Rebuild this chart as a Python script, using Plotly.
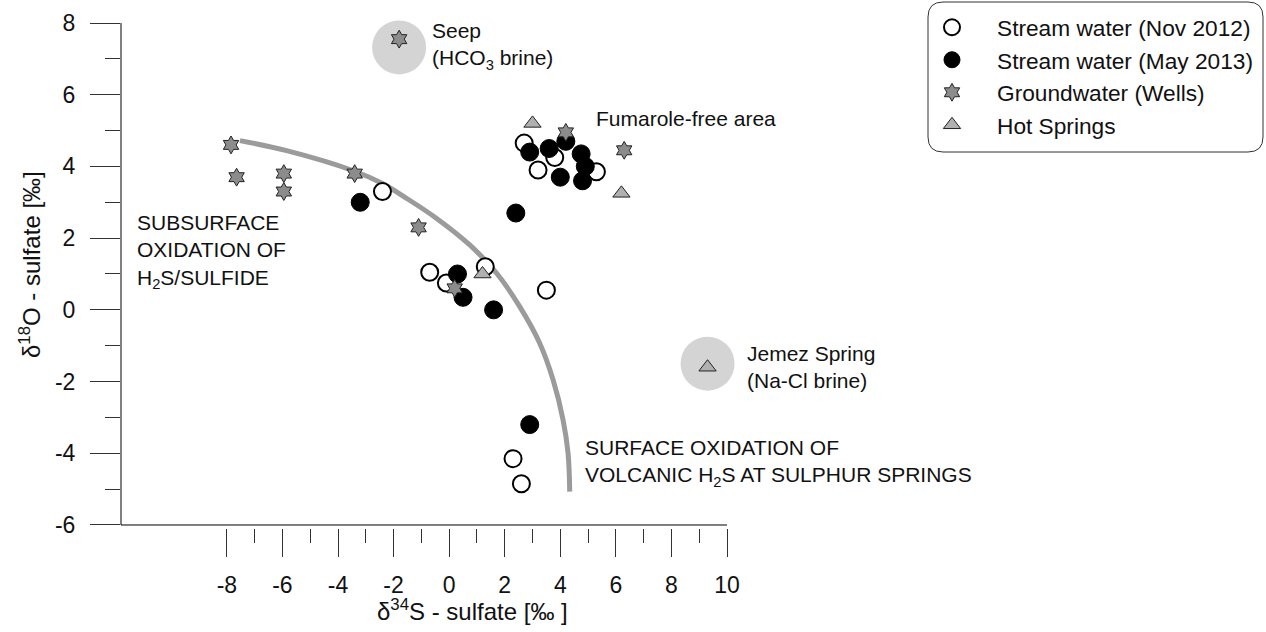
import plotly.graph_objects as go

# ---------------- data ----------------
nov_x = [-2.4, -0.7, -0.1, 1.3, 3.5, 2.3, 2.6, 2.7, 3.8, 3.2, 5.3]
nov_y = [3.3, 1.05, 0.75, 1.2, 0.55, -4.15, -4.85, 4.65, 4.25, 3.9, 3.85]

may_x = [-3.2, 0.3, 0.5, 1.6, 2.4, 2.9, 2.9, 3.6, 4.2, 4.75, 4.9, 4.0, 4.8]
may_y = [3.0, 1.0, 0.35, 0.0, 2.7, -3.2, 4.4, 4.5, 4.7, 4.35, 4.0, 3.7, 3.6]

gw_x = [-7.85, -7.65, -5.95, -5.95, -3.4, -1.1, 0.2, -1.8, 4.2, 6.3]
gw_y = [4.6, 3.7, 3.8, 3.3, 3.8, 2.3, 0.6, 7.55, 4.95, 4.45]

hs_x = [3.0, 6.2, 1.2, 9.3]
hs_y = [5.2, 3.25, 1.0, -1.6]

# grey halos behind the two brines (Seep, Jemez Spring)
halo_x = [-1.8, 9.3]
halo_y = [7.32, -1.5]

# schematic oxidation curve, points read along the grey arc
curve_x = [-7.53, -5.85, -3.45, -2.42, -1.53, -0.45, 0.74, 1.71, 2.54,
           3.26, 3.74, 4.10, 4.28, 4.34]
curve_y = [4.72, 4.44, 3.88, 3.53, 3.11, 2.55, 1.81, 1.02, 0.09,
           -0.93, -1.95, -3.07, -4.00, -5.07]

x_ticks = [-8, -6, -4, -2, 0, 2, 4, 6, 8, 10]
x_minor = [-7, -5, -3, -1, 1, 3, 5, 7, 9]
y_ticks = [-6, -4, -2, 0, 2, 4, 6, 8]
y_minor = [-5, -3, -1, 1, 3, 5, 7]

FONT = "Liberation Sans, Arial, Helvetica, sans-serif"
TXT = "#111111"

fig = go.Figure()

fig.add_trace(go.Scatter(
    x=curve_x, y=curve_y, mode="lines",
    line=dict(color="#9b9b9b", width=5, shape="spline", smoothing=1.0),
    showlegend=False, hoverinfo="skip"))

fig.add_trace(go.Scatter(
    x=halo_x, y=halo_y, mode="markers",
    marker=dict(size=54, color="#d4d4d4", line=dict(width=0)),
    showlegend=False, hoverinfo="skip", cliponaxis=False))

fig.add_trace(go.Scatter(
    x=nov_x, y=nov_y, mode="markers", name="Stream water (Nov 2012)",
    marker=dict(symbol="circle", size=17, color="white",
                line=dict(color="black", width=2)),
    cliponaxis=False))

fig.add_trace(go.Scatter(
    x=may_x, y=may_y, mode="markers", name="Stream water (May 2013)",
    marker=dict(symbol="circle", size=18, color="black",
                line=dict(color="black", width=1)),
    cliponaxis=False))

fig.add_trace(go.Scatter(
    x=gw_x, y=gw_y, mode="markers", name="Groundwater (Wells)",
    marker=dict(symbol="hexagram", size=13.5, color="#8c8c8c",
                line=dict(color="#222222", width=1)),
    cliponaxis=False))

fig.add_trace(go.Scatter(
    x=hs_x, y=hs_y, mode="markers", name="Hot Springs",
    marker=dict(symbol="triangle-up", size=15, color="#b0b0b0",
                line=dict(color="#222222", width=1)),
    cliponaxis=False))

# plot-area geometry (pixels) used for paper-coordinate placement
L, R, T, B = 121, 727, 23, 528
W, H = R - L, B - T


def px(xp):
    return (xp - L) / W


def py(yp):
    return (B - yp) / H


axis_common = dict(
    showgrid=False, zeroline=False, showline=False,
    ticks="outside", tickwidth=1, tickcolor="#333333",
    tickfont=dict(size=23, color=TXT, family=FONT),
)

fig.update_layout(
    width=1266, height=632,
    margin=dict(l=L, r=1266 - R, t=T, b=632 - B, autoexpand=False),
    paper_bgcolor="white", plot_bgcolor="white",
    font=dict(family=FONT, color=TXT, size=21),
    xaxis=dict(range=[-11.81, 10], tickvals=x_ticks,
               ticktext=[str(v) for v in x_ticks], ticklen=28,
               ticklabelstandoff=8,
               minor=dict(tickvals=x_minor, ticklen=14, ticks="outside",
                          tickcolor="#333333", tickwidth=1, showgrid=False),
               **axis_common),
    yaxis=dict(range=[-6.084, 8], tickvals=y_ticks,
               ticktext=[str(v) for v in y_ticks], ticklen=30,
               ticklabelstandoff=10,
               minor=dict(tickvals=y_minor, ticklen=15, ticks="outside",
                          tickcolor="#333333", tickwidth=1, showgrid=False),
               **axis_common),
    legend=dict(x=px(907), y=py(6), xanchor="left", yanchor="top",
                itemwidth=80, font=dict(size=22.7, color=TXT, family=FONT),
                bgcolor="rgba(0,0,0,0)", borderwidth=0),
    showlegend=True,
)

# axis lines (x line sits a little above its ticks, as in the reference)
fig.add_shape(type="line", xref="paper", yref="y", x0=0, x1=1, y0=-6, y1=-6,
              line=dict(color="black", width=1))
fig.add_shape(type="line", xref="paper", yref="y", x0=0, x1=0, y0=-6, y1=8,
              line=dict(color="black", width=1))

# rounded legend frame
x0, x1, yt, yb = px(928), px(1263), py(2), py(152)
rx, ry = 15 / W, 15 / H
path = (f"M {x0+rx},{yt} L {x1-rx},{yt} Q {x1},{yt} {x1},{yt-ry} "
        f"L {x1},{yb+ry} Q {x1},{yb} {x1-rx},{yb} "
        f"L {x0+rx},{yb} Q {x0},{yb} {x0},{yb+ry} "
        f"L {x0},{yt-ry} Q {x0},{yt} {x0+rx},{yt} Z")
fig.add_shape(type="path", xref="paper", yref="paper", path=path,
              line=dict(color="#333333", width=1), fillcolor="rgba(0,0,0,0)")

notes = [
    (-0.69, 7.36, "Seep<br>(HCO<sub>3</sub> brine)"),
    (5.21, 5.34, "Fumarole-free area"),
    (-11.31, 1.64, "SUBSURFACE<br>OXIDATION OF<br>H<sub>2</sub>S/SULFIDE"),
    (4.80, -4.26, "SURFACE OXIDATION OF<br>VOLCANIC H<sub>2</sub>S AT SULPHUR SPRINGS"),
]
for nx, ny, t in notes:
    fig.add_annotation(x=nx, y=ny, xref="x", yref="y", text=t, showarrow=False,
                       xanchor="left", yanchor="middle", align="left",
                       font=dict(size=21, color=TXT, family=FONT))

# Jemez label lies right of the x range -> place it in paper x
fig.add_annotation(x=px(745), y=-1.58, xref="paper", yref="y",
                   text="Jemez Spring<br>(Na-Cl brine)", showarrow=False,
                   xanchor="left", yanchor="middle", align="left",
                   font=dict(size=21, color=TXT, family=FONT))

# axis titles
fig.add_annotation(xref="paper", yref="paper", x=px(472), y=py(610),
                   text="δ<sup>34</sup>S - sulfate [‰ ]", showarrow=False,
                   xanchor="center", yanchor="middle",
                   font=dict(size=24, color=TXT, family=FONT))
fig.add_annotation(xref="paper", yref="paper", x=px(30), y=py(264),
                   text="δ<sup>18</sup>O - sulfate [‰]", showarrow=False,
                   textangle=-90, xanchor="center", yanchor="middle",
                   font=dict(size=24, color=TXT, family=FONT))

fig.write_html("out.html", config={"displayModeBar": False},
               post_script="document.body.style.margin='0';document.body.style.overflow='hidden';")
